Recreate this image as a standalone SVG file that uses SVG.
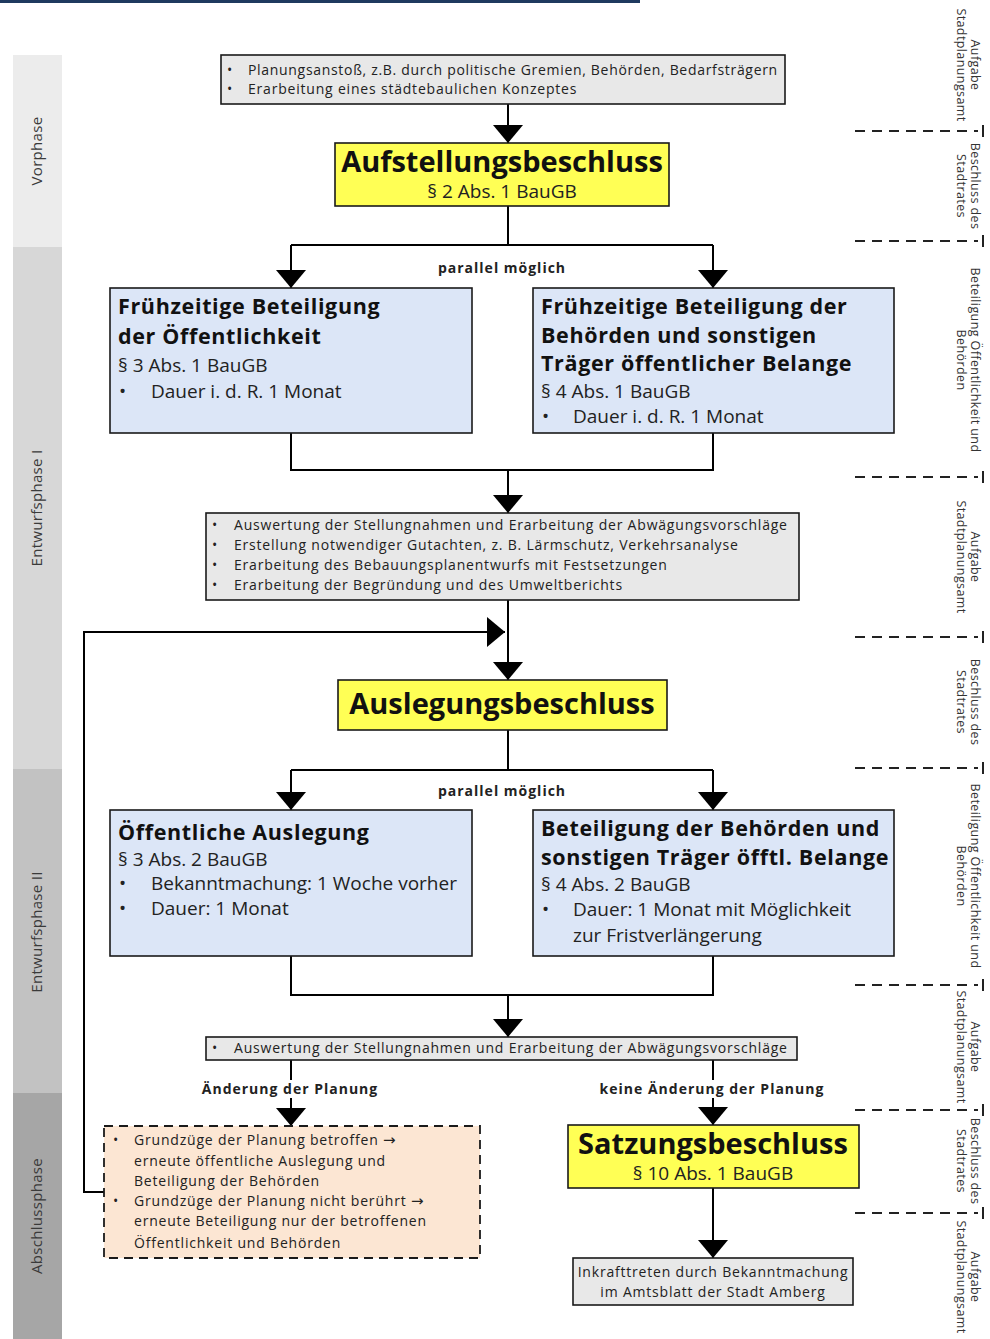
<svg xmlns="http://www.w3.org/2000/svg" width="990" height="1339" viewBox="0 0 990 1339">
<defs>
<style>
.bg{fill:#ffffff}
.phase text{font-family:"Open Sans","Liberation Sans",sans-serif;font-size:15px;letter-spacing:0.3px;fill:#3a3a3a;text-anchor:middle}
.side text{font-family:"Open Sans","Liberation Sans",sans-serif;font-size:12.5px;letter-spacing:0.4px;fill:#333;text-anchor:middle}
.sep{stroke:#222;stroke-width:2;stroke-dasharray:10 7;fill:none}
.tick{stroke:#222;stroke-width:2}
.gray{fill:#e8e8e8;stroke:#1a1a1a;stroke-width:1.6}
.blue{fill:#dce6f7;stroke:#1a1a1a;stroke-width:1.6}
.yellow{fill:#ffff55;stroke:#1a1a1a;stroke-width:1.6}
.peach{fill:#fce6d3;stroke:#1a1a1a;stroke-width:1.8;stroke-dasharray:9 6}
.sm{font-family:"Open Sans","Liberation Sans",sans-serif;font-size:14px;letter-spacing:0.8px;fill:#222}
.ar{font-family:"DejaVu Sans",sans-serif;font-size:15px;letter-spacing:0}
.hd{font-family:"Open Sans","Liberation Sans",sans-serif;font-size:21.5px;font-weight:bold;fill:#111;letter-spacing:0.65px}
.md{font-family:"Open Sans","Liberation Sans",sans-serif;font-size:19px;fill:#222}
.big{font-family:"Open Sans","Liberation Sans",sans-serif;font-size:29px;font-weight:bold;fill:#111;text-anchor:middle}
.ctr{text-anchor:middle}
.lbl{font-family:"Open Sans","Liberation Sans",sans-serif;font-size:14px;letter-spacing:1px;font-weight:bold;fill:#222;text-anchor:middle}
.con{stroke:#000;stroke-width:2;fill:none}
</style>
<marker id="ah" viewBox="0 0 18 30" markerUnits="userSpaceOnUse" markerWidth="18" markerHeight="30" refX="18" refY="15" orient="auto">
<path d="M0,0 L18,15 L0,30 Z" fill="#000"/>
</marker>
</defs>
<rect class="bg" x="0" y="0" width="990" height="1339"/>
<rect x="0" y="0" width="640" height="3" fill="#1f3a5f"/>

<g id="phases" class="phase">
<rect x="13" y="55" width="49" height="192" fill="#ececec"/>
<rect x="13" y="247" width="49" height="522" fill="#d7d7d7"/>
<rect x="13" y="769" width="49" height="324" fill="#c2c2c2"/>
<rect x="13" y="1093" width="49" height="246" fill="#a6a6a6"/>
<text transform="translate(42,151) rotate(-90)">Vorphase</text>
<text transform="translate(42,508) rotate(-90)">Entwurfsphase I</text>
<text transform="translate(42,932) rotate(-90)">Entwurfsphase II</text>
<text transform="translate(42,1216) rotate(-90)">Abschlussphase</text>
</g>

<g id="side-labels" class="side">
<text transform="translate(971,65) rotate(90)"><tspan x="0" y="0">Aufgabe</tspan><tspan x="0" y="14">Stadtplanungsamt</tspan></text>
<text transform="translate(971,186) rotate(90)"><tspan x="0" y="0">Beschluss des</tspan><tspan x="0" y="14">Stadtrates</tspan></text>
<text transform="translate(971,360) rotate(90)"><tspan x="0" y="0">Beteiligung Öffentlichkeit und</tspan><tspan x="0" y="14">Behörden</tspan></text>
<text transform="translate(971,557) rotate(90)"><tspan x="0" y="0">Aufgabe</tspan><tspan x="0" y="14">Stadtplanungsamt</tspan></text>
<text transform="translate(971,702) rotate(90)"><tspan x="0" y="0">Beschluss des</tspan><tspan x="0" y="14">Stadtrates</tspan></text>
<text transform="translate(971,876) rotate(90)"><tspan x="0" y="0">Beteiligung Öffentlichkeit und</tspan><tspan x="0" y="14">Behörden</tspan></text>
<text transform="translate(971,1047) rotate(90)"><tspan x="0" y="0">Aufgabe</tspan><tspan x="0" y="14">Stadtplanungsamt</tspan></text>
<text transform="translate(971,1161) rotate(90)"><tspan x="0" y="0">Beschluss des</tspan><tspan x="0" y="14">Stadtrates</tspan></text>
<text transform="translate(971,1277) rotate(90)"><tspan x="0" y="0">Aufgabe</tspan><tspan x="0" y="14">Stadtplanungsamt</tspan></text>
</g>

<g id="separators">
<path class="sep" d="M855,131 H978 M855,241 H978 M855,477 H978 M855,637 H978 M855,768 H978 M855,985 H978 M855,1110 H978 M855,1213 H978"/>
<path class="tick" d="M983,125 V137 M983,235 V247 M983,471 V483 M983,631 V643 M983,762 V774 M983,979 V991 M983,1104 V1116 M983,1207 V1219"/>
</g>

<g id="connectors">
<path class="con" d="M508,104 V143" marker-end="url(#ah)"/>
<path class="con" d="M508,206 V245 M291,245 H713"/>
<path class="con" d="M291,245 V288" marker-end="url(#ah)"/>
<path class="con" d="M713,245 V288" marker-end="url(#ah)"/>
<path class="con" d="M291,433 V470 H713 V433"/>
<path class="con" d="M508,470 V513" marker-end="url(#ah)"/>
<path class="con" d="M508,600 V680" marker-end="url(#ah)"/>
<path class="con" d="M104,1192 H84 V632 H505" marker-end="url(#ah)"/>
<path class="con" d="M508,730 V770 M291,770 H713"/>
<path class="con" d="M291,770 V810" marker-end="url(#ah)"/>
<path class="con" d="M713,770 V810" marker-end="url(#ah)"/>
<path class="con" d="M291,956 V995 H713 V956"/>
<path class="con" d="M508,995 V1037" marker-end="url(#ah)"/>
<path class="con" d="M291,1060 V1126" marker-end="url(#ah)"/>
<path class="con" d="M713,1060 V1125" marker-end="url(#ah)"/>
<path class="con" d="M713,1188 V1258" marker-end="url(#ah)"/>
<rect x="436" y="259" width="132" height="18" fill="#fff"/>
<text class="lbl" x="502" y="273">parallel möglich</text>
<rect x="436" y="782" width="132" height="18" fill="#fff"/>
<text class="lbl" x="502" y="796">parallel möglich</text>
<rect x="200" y="1080" width="182" height="18" fill="#fff"/>
<text class="lbl" x="290" y="1094">Änderung der Planung</text>
<rect x="598" y="1080" width="228" height="18" fill="#fff"/>
<text class="lbl" x="712" y="1094">keine Änderung der Planung</text>
</g>

<g id="n-planungsanstoss">
<rect class="gray" x="221" y="55" width="564" height="49"/>
<text class="sm" x="227" y="75">•</text><text class="sm" x="248" y="75" textLength="530" lengthAdjust="spacing">Planungsanstoß, z.B. durch politische Gremien, Behörden, Bedarfsträgern</text>
<text class="sm" x="227" y="94">•</text><text class="sm" x="248" y="94">Erarbeitung eines städtebaulichen Konzeptes</text>
</g>

<g id="n-aufstellungsbeschluss">
<rect class="yellow" x="335" y="143" width="334" height="63"/>
<text class="big" x="502" y="172">Aufstellungsbeschluss</text>
<text class="md ctr" x="502" y="198">§ 2 Abs. 1 BauGB</text>
</g>

<g id="n-fruehz-oeffentlichkeit">
<rect class="blue" x="110" y="288" width="362" height="145"/>
<text class="hd" x="118" y="314">Frühzeitige Beteiligung</text>
<text class="hd" x="118" y="344">der Öffentlichkeit</text>
<text class="md" x="118" y="372">§ 3 Abs. 1 BauGB</text>
<text class="md" x="119" y="398">•</text><text class="md" x="151" y="398">Dauer i. d. R. 1 Monat</text>
</g>

<g id="n-fruehz-behoerden">
<rect class="blue" x="533" y="288" width="361" height="145"/>
<text class="hd" x="541" y="314">Frühzeitige Beteiligung der</text>
<text class="hd" x="541" y="343">Behörden und sonstigen</text>
<text class="hd" x="541" y="371">Träger öffentlicher Belange</text>
<text class="md" x="541" y="398">§ 4 Abs. 1 BauGB</text>
<text class="md" x="542" y="423">•</text><text class="md" x="573" y="423">Dauer i. d. R. 1 Monat</text>
</g>

<g id="n-auswertung-1">
<rect class="gray" x="206" y="513" width="593" height="87"/>
<text class="sm" x="212" y="530">•</text><text class="sm" x="234" y="530">Auswertung der Stellungnahmen und Erarbeitung der Abwägungsvorschläge</text>
<text class="sm" x="212" y="550">•</text><text class="sm" x="234" y="550">Erstellung notwendiger Gutachten, z. B. Lärmschutz, Verkehrsanalyse</text>
<text class="sm" x="212" y="570">•</text><text class="sm" x="234" y="570">Erarbeitung des Bebauungsplanentwurfs mit Festsetzungen</text>
<text class="sm" x="212" y="590">•</text><text class="sm" x="234" y="590">Erarbeitung der Begründung und des Umweltberichts</text>
</g>

<g id="n-auslegungsbeschluss">
<rect class="yellow" x="338" y="680" width="329" height="50"/>
<text class="big" x="502" y="714">Auslegungsbeschluss</text>
</g>

<g id="n-oeffentliche-auslegung">
<rect class="blue" x="110" y="810" width="362" height="146"/>
<text class="hd" x="118" y="840">Öffentliche Auslegung</text>
<text class="md" x="118" y="866">§ 3 Abs. 2 BauGB</text>
<text class="md" x="119" y="890">•</text><text class="md" x="151" y="890">Bekanntmachung: 1 Woche vorher</text>
<text class="md" x="119" y="915">•</text><text class="md" x="151" y="915">Dauer: 1 Monat</text>
</g>

<g id="n-beteiligung-behoerden">
<rect class="blue" x="533" y="810" width="361" height="146"/>
<text class="hd" x="541" y="836">Beteiligung der Behörden und</text>
<text class="hd" x="541" y="865">sonstigen Träger öfftl. Belange</text>
<text class="md" x="541" y="891">§ 4 Abs. 2 BauGB</text>
<text class="md" x="542" y="916">•</text><text class="md" x="573" y="916">Dauer: 1 Monat mit Möglichkeit</text>
<text class="md" x="573" y="942">zur Fristverlängerung</text>
</g>

<g id="n-auswertung-2">
<rect class="gray" x="206" y="1037" width="591" height="23"/>
<text class="sm" x="212" y="1053">•</text><text class="sm" x="234" y="1053">Auswertung der Stellungnahmen und Erarbeitung der Abwägungsvorschläge</text>
</g>

<g id="n-aenderung">
<rect class="peach" x="104" y="1126" width="376" height="132"/>
<text class="sm" x="113" y="1145">•</text><text class="sm" x="134" y="1145">Grundzüge der Planung betroffen <tspan class="ar">→</tspan></text>
<text class="sm" x="134" y="1166">erneute öffentliche Auslegung und</text>
<text class="sm" x="134" y="1186">Beteiligung der Behörden</text>
<text class="sm" x="113" y="1206">•</text><text class="sm" x="134" y="1206">Grundzüge der Planung nicht berührt <tspan class="ar">→</tspan></text>
<text class="sm" x="134" y="1226">erneute Beteiligung nur der betroffenen</text>
<text class="sm" x="134" y="1248">Öffentlichkeit und Behörden</text>
</g>

<g id="n-satzungsbeschluss">
<rect class="yellow" x="568" y="1125" width="291" height="63"/>
<text class="big" x="713" y="1154">Satzungsbeschluss</text>
<text class="md ctr" x="713" y="1180">§ 10 Abs. 1 BauGB</text>
</g>

<g id="n-inkrafttreten">
<rect class="gray" x="573" y="1258" width="280" height="47"/>
<text class="sm ctr" x="713" y="1277">Inkrafttreten durch Bekanntmachung</text>
<text class="sm ctr" x="713" y="1297">im Amtsblatt der Stadt Amberg</text>
</g>
</svg>
